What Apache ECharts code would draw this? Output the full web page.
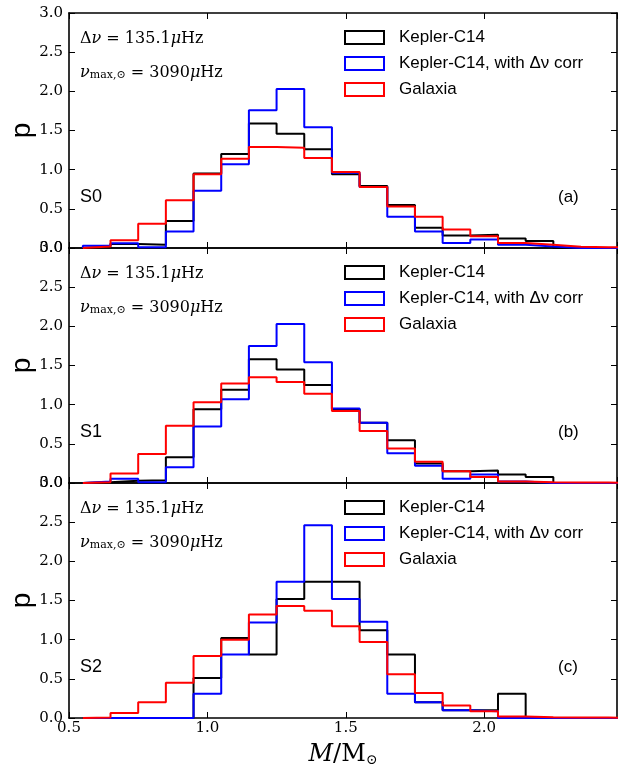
<!DOCTYPE html>
<html>
<head>
<meta charset="utf-8">
<script src="https://cdn.jsdelivr.net/npm/echarts@6/dist/echarts.min.js"></script>
<style>
html,body{margin:0;padding:0;background:#fff;}
#chart{width:618px;height:774px;}
</style>
</head>
<body>
<div id="chart"></div>
<script>
// Bin edges (M/Msun), 20 bins of width 0.1
const binEdges = [0.55,0.65,0.75,0.85,0.95,1.05,1.15,1.25,1.35,1.45,1.55,1.65,1.75,1.85,1.95,2.05,2.15,2.25,2.35,2.45,2.55];

// Panel (a) S0
const s0Kepler     = [0.02,0.05,0.04,0.345,0.95,1.20,1.59,1.46,1.26,0.94,0.79,0.55,0.26,0.16,0.17,0.12,0.09,0,0,0];
const s0KeplerCorr = [0.03,0.06,0.01,0.21,0.73,1.07,1.76,2.03,1.54,0.96,0.78,0.40,0.21,0.065,0.11,0.04,0.02,0,0,0];
const s0Galaxia    = [0.02,0.10,0.31,0.61,0.94,1.14,1.29,1.28,1.15,0.97,0.78,0.53,0.40,0.235,0.15,0.065,0.04,0.015,0.01,0.005];

// Panel (b) S1
const s1Kepler     = [0.01,0.03,0.035,0.33,0.94,1.19,1.58,1.45,1.25,0.94,0.77,0.545,0.25,0.15,0.16,0.11,0.077,0,0,0];
const s1KeplerCorr = [0.02,0.055,0.01,0.20,0.72,1.07,1.75,2.03,1.54,0.95,0.77,0.38,0.22,0.055,0.11,0.02,0,0,0,0];
const s1Galaxia    = [0.01,0.12,0.37,0.73,1.03,1.27,1.35,1.29,1.14,0.92,0.665,0.44,0.27,0.15,0.077,0.02,0.01,0.005,0.005,0.003];

// Panel (c) S2
const s2Kepler     = [0,0,0,0,0.51,1.02,0.81,1.52,1.74,1.74,1.12,0.81,0.20,0.10,0.10,0.31,0,0,0,0];
const s2KeplerCorr = [0,0,0,0,0.31,0.81,1.22,1.74,2.46,1.52,1.23,0.31,0.20,0.10,0.085,0,0,0,0,0];
const s2Galaxia    = [0.005,0.064,0.20,0.45,0.79,1.00,1.32,1.43,1.37,1.17,0.97,0.56,0.32,0.16,0.085,0.02,0.01,0.005,0.005,0.003];

const seriesNames = ['Kepler-C14', 'Kepler-C14, with \u0394\u03bd corr', 'Galaxia'];
const sampleLabels = ['S0', 'S1', 'S2'];
const panelLabels = ['(a)', '(b)', '(c)'];
const xTicks = [0.5, 1.0, 1.5, 2.0];
const yTickStep = 0.5;

const panels = [
  [s0Kepler, s0KeplerCorr, s0Galaxia],
  [s1Kepler, s1KeplerCorr, s1Galaxia],
  [s2Kepler, s2KeplerCorr, s2Galaxia]
];
const colors = ['#000000', '#0000ff', '#ff0000'];

function histData(vals) {
  const d = [[binEdges[0], 0]];
  vals.forEach((v, i) => d.push([binEdges[i], v]));
  d.push([binEdges[vals.length], 0]);
  return d;
}

const SERIF = "'DejaVu Serif', 'Liberation Serif', serif";
const SANS = "'Liberation Sans', Arial, sans-serif";
const gridTop = 13, gridH = 235, gridLeft = 69, gridRight = 1;

const grids = [], xAxes = [], yAxes = [], series = [], legends = [], graphics = [];

for (let k = 0; k < 3; k++) {
  grids.push({ left: gridLeft, right: gridRight, top: gridTop + k * gridH, height: gridH, containLabel: false, outerBoundsMode: 'none' });
  const axisLineStyle = { color: '#000', width: 1.6 };
  const tick = { show: true, inside: true, length: 6, lineStyle: { color: '#000', width: 1 } };
  const xCommon = {
    type: 'value', gridIndex: k, min: 0.5, max: 2.48, interval: 0.5,
    splitLine: { show: false },
    axisLine: { show: true, onZero: false, lineStyle: axisLineStyle },
    axisTick: tick
  };
  xAxes.push(Object.assign({}, xCommon, {
    position: 'bottom',
    axisLabel: {
      show: k === 2, showMaxLabel: false, margin: 3,
      fontFamily: SERIF, fontSize: 15, color: '#000',
      formatter: v => xTicks.some(t => Math.abs(t - v) < 1e-6) ? v.toFixed(1) : ''
    },
    name: k === 2 ? '{i|M}{r|/M}{s|\u2299}' : '',
    nameLocation: 'middle', nameGap: 23, nameMoveOverlap: false,
    nameTextStyle: {
      rich: {
        i: { fontFamily: SERIF, fontStyle: 'italic', fontSize: 24, color: '#000', verticalAlign: 'bottom', lineHeight: 26 },
        r: { fontFamily: SERIF, fontSize: 24, color: '#000', verticalAlign: 'bottom', lineHeight: 26 },
        s: { fontFamily: SERIF, fontSize: 14, color: '#000', verticalAlign: 'bottom', lineHeight: 16 }
      }
    }
  }));
  xAxes.push(Object.assign({}, xCommon, { position: 'top', axisLabel: { show: false } }));

  const yCommon = {
    type: 'value', gridIndex: k, min: 0, max: 3, interval: yTickStep,
    splitLine: { show: false },
    axisLine: { show: true, onZero: false, lineStyle: axisLineStyle },
    axisTick: tick
  };
  yAxes.push(Object.assign({}, yCommon, {
    position: 'left',
    axisLabel: { show: true, margin: 6, fontFamily: SERIF, fontSize: 15, color: '#000', formatter: v => v.toFixed(1) },
    name: 'p', nameLocation: 'middle', nameGap: 33, nameRotate: 90, nameMoveOverlap: false,
    nameTextStyle: { fontFamily: SANS, fontSize: 28, color: '#000' }
  }));
  yAxes.push(Object.assign({}, yCommon, { position: 'right', axisLabel: { show: false } }));

  panels[k].forEach((vals, j) => {
    series.push({
      name: seriesNames[j], type: 'line', step: 'end',
      xAxisIndex: 2 * k, yAxisIndex: 2 * k,
      data: histData(vals), symbol: 'none', showSymbol: false,
      itemStyle: { color: colors[j] },
      lineStyle: { color: colors[j], width: 2 },
      emphasis: { disabled: true }, silent: true, z: 2 + j
    });
  });

  legends.push({
    orient: 'vertical', left: 344, top: 29 + k * gridH, padding: 0,
    icon: 'rect', itemWidth: 39, itemHeight: 13, itemGap: 9,
    selectedMode: false,
    textStyle: { fontFamily: SANS, fontSize: 17, color: '#000', padding: [0, 0, 0, 10] },
    data: seriesNames.map((n, j) => ({ name: n, itemStyle: { color: 'rgba(0,0,0,0)', borderColor: colors[j], borderWidth: 2 } }))
  });

  const dy = k * gridH;
  graphics.push({
    type: 'text', left: 80, top: 31 + dy, silent: true,
    style: {
      text: '{r|\u0394}{i|\u03bd}{r| = 135.1}{i|\u03bc}{r|Hz}',
      rich: {
        r: { fontFamily: SERIF, fontSize: 16, fill: '#000', verticalAlign: 'bottom', lineHeight: 20 },
        i: { fontFamily: SERIF, fontStyle: 'italic', fontSize: 16, fill: '#000', verticalAlign: 'bottom', lineHeight: 20 }
      }
    }
  });
  graphics.push({
    type: 'text', left: 80, top: 65 + dy, silent: true,
    style: {
      text: '{i|\u03bd}{s|max,\u2299}{r| = 3090}{i|\u03bc}{r|Hz}',
      rich: {
        r: { fontFamily: SERIF, fontSize: 16, fill: '#000', verticalAlign: 'bottom', lineHeight: 20 },
        i: { fontFamily: SERIF, fontStyle: 'italic', fontSize: 16, fill: '#000', verticalAlign: 'bottom', lineHeight: 20 },
        s: { fontFamily: SERIF, fontSize: 11, fill: '#000', verticalAlign: 'bottom', lineHeight: 10 }
      }
    }
  });
  graphics.push({
    type: 'text', left: 80, top: 188 + dy, silent: true,
    style: { text: sampleLabels[k], fontFamily: SANS, fontSize: 18, fill: '#000' }
  });
  graphics.push({
    type: 'text', left: 558, top: 189 + dy, silent: true,
    style: { text: panelLabels[k], fontFamily: SANS, fontSize: 17, fill: '#000' }
  });
}

const chart = echarts.init(document.getElementById('chart'), null, { renderer: 'canvas' });
chart.setOption({
  animation: false,
  backgroundColor: '#ffffff',
  grid: grids, xAxis: xAxes, yAxis: yAxes,
  series: series, legend: legends, graphic: graphics
});
</script>
</body>
</html>
